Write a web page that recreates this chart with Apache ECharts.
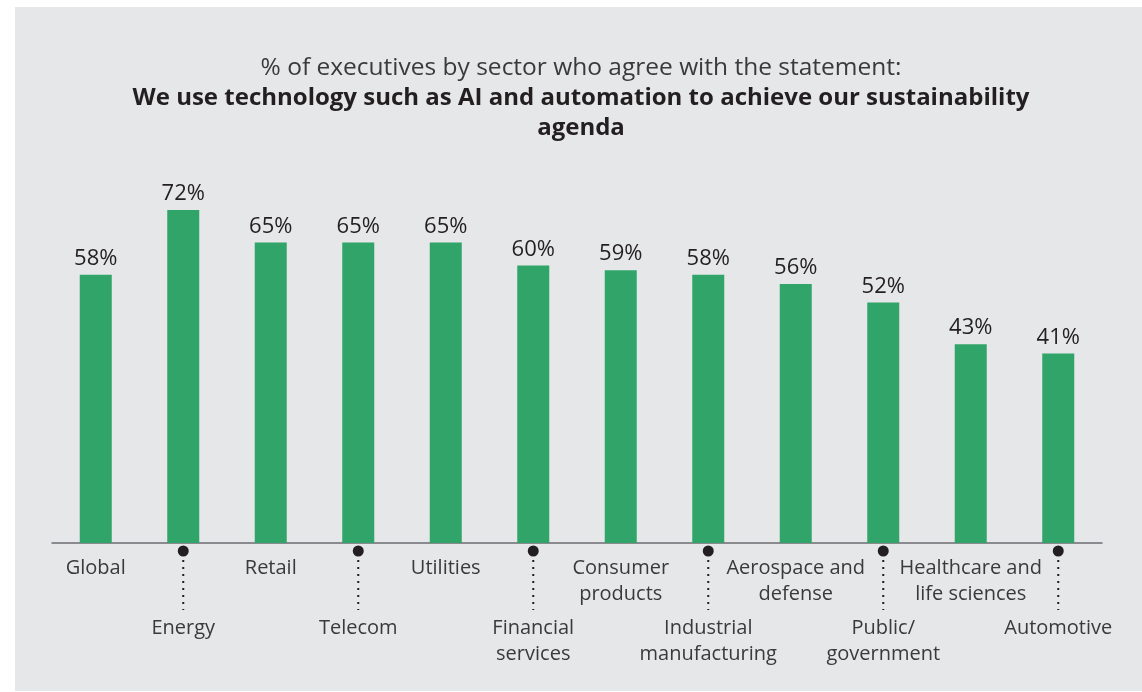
<!DOCTYPE html>
<html>
<head>
<meta charset="utf-8">
<script src="https://cdn.jsdelivr.net/npm/echarts@6/dist/echarts.min.js"></script>
<style>
html,body{margin:0;padding:0;background:#ffffff;}
#c{width:1142px;height:692px;}
</style>
</head>
<body>
<div id="c"></div>
<script>
const categories = ['Global','Energy','Retail','Telecom','Utilities','Financial\nservices','Consumer\nproducts','Industrial\nmanufacturing','Aerospace and\ndefense','Public/\ngovernment','Healthcare and\nlife sciences','Automotive'];
const values = [58,72,65,65,65,60,59,58,56,52,43,41];
const titleLine1 = '% of executives by sector who agree with the statement:';
const titleLine2 = 'We use technology such as AI and automation to achieve our sustainability';
const titleLine3 = 'agenda';

const FONT = '"Open Sans", "Noto Sans", sans-serif';
const chart = echarts.init(document.getElementById('c'));
chart.setOption({
  backgroundColor: '#ffffff',
  animation: false,
  graphic: [{
    type: 'rect', left: 15, top: 7, z: -10,
    shape: {width: 1127, height: 684},
    style: {fill: '#e6e7e9'}
  }],
  title: {
    left: 576, top: 48, textAlign: 'center',
    text: '{a|' + titleLine1 + '}\n{b|' + titleLine2 + '}\n{b|' + titleLine3 + '}',
    textStyle: {
      fontWeight: 'normal',
      rich: {
        a: {fontFamily: FONT, fontSize: 24.5, fontWeight: 'normal', color: '#3a3a3a', lineHeight: 30, align: 'center'},
        b: {fontFamily: FONT, fontSize: 24, fontWeight: 'bold', color: '#231f20', lineHeight: 30, align: 'center'}
      }
    }
  },
  grid: {left: 52, right: 40, top: 80.5, bottom: 149, containLabel: false},
  xAxis: {
    type: 'category',
    data: categories,
    axisLine: {lineStyle: {color: '#6d6e71', width: 1.5}},
    axisTick: {show: false},
    axisLabel: {
      interval: 0,
      margin: 12,
      formatter: function (v, i) {
        const lines = v.split('\n').map(s => '{t|' + s + '}').join('\n');
        return (i % 2 === 1) ? '{sp| }\n' + lines : lines;
      },
      rich: {
        t: {fontFamily: FONT, fontSize: 20, color: '#3a3a3a', lineHeight: 26, align: 'center'},
        sp: {fontSize: 10, lineHeight: 60}
      }
    }
  },
  yAxis: {type: 'value', min: 0, max: 100, show: false, splitLine: {show: false}},
  series: [{
    type: 'bar',
    data: values,
    barWidth: 32,
    itemStyle: {color: '#31a46a'},
    label: {
      show: true, position: 'top', distance: 5,
      formatter: '{c}%',
      fontFamily: FONT, fontSize: 22, color: '#231f20'
    }
  }, {
    type: 'custom',
    clip: false,
    data: categories.map((c, i) => [i, 0]),
    renderItem: function (params, api) {
      const i = api.value(0);
      if (i % 2 === 0) return null;
      const p = api.coord([i, 0]);
      return {
        type: 'group',
        children: [{
          type: 'circle',
          shape: {cx: p[0], cy: p[1] + 8, r: 5.5},
          style: {fill: '#231f20'}
        }, {
          type: 'line',
          shape: {x1: p[0], y1: p[1] + 17, x2: p[0], y2: p[1] + 67},
          style: {stroke: '#231f20', lineWidth: 2, lineDash: [2, 5]}
        }]
      };
    }
  }]
});
</script>
</body>
</html>
